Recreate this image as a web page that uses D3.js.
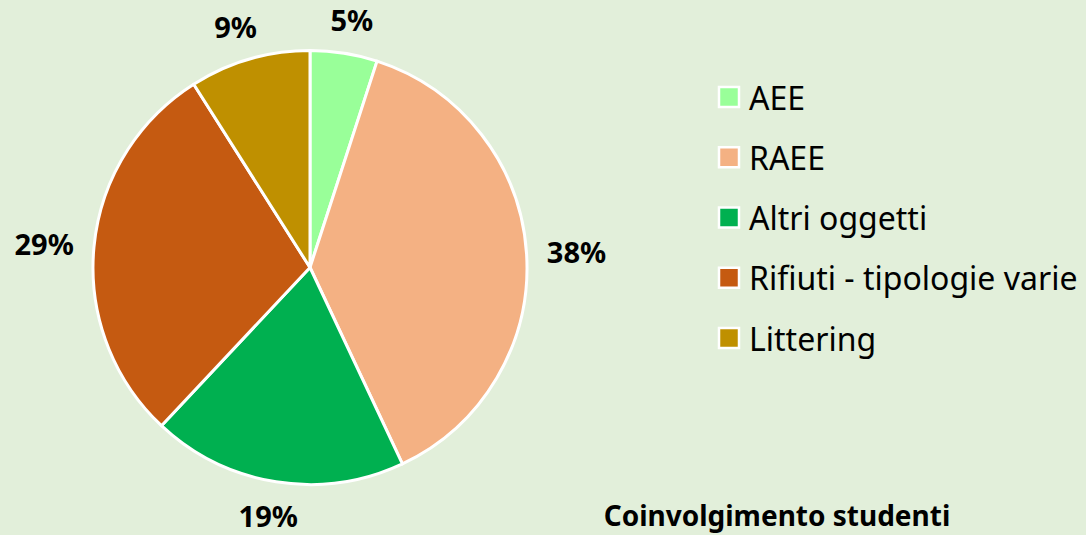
<!DOCTYPE html>
<html>
<head>
<meta charset="utf-8">
<script src="https://cdn.jsdelivr.net/npm/d3@7"></script>
<style>
  body { margin: 0; background: #e2efda; }
  svg { display: block; font-family: "Noto Sans", "Open Sans", sans-serif; }
</style>
</head>
<body>
<div id="chart"></div>
<script>
// data
const categories = ['AEE', 'RAEE', 'Altri oggetti', 'Rifiuti - tipologie varie', 'Littering'];
const values = [5, 38, 19, 29, 9];
const colors = ['#99ff99', '#f4b183', '#00b050', '#c55a11', '#bf9000'];
const title = 'Coinvolgimento studenti';

const W = 1086, H = 535;
const cx = 310, cy = 267.5, r = 217;

const svg = d3.select('#chart').append('svg')
  .attr('width', W)
  .attr('height', H);

svg.append('rect').attr('width', W).attr('height', H).attr('fill', '#e2efda');

const data = categories.map((c, i) => ({ name: c, value: values[i], color: colors[i] }));

const pie = d3.pie().sort(null).value(d => d.value);
const arc = d3.arc().innerRadius(0).outerRadius(r);
const arcs = pie(data);

const g = svg.append('g').attr('transform', `translate(${cx},${cy})`);

g.selectAll('path.slice')
  .data(arcs)
  .enter().append('path')
  .attr('class', 'slice')
  .attr('d', arc)
  .attr('fill', d => d.data.color)
  .attr('stroke', '#fff')
  .attr('stroke-width', 3)
  .attr('stroke-linejoin', 'round');

// labels outside end
const total = d3.sum(values);
const gap = 20, lw = 60, lh = 28;
g.selectAll('text.lbl')
  .data(arcs)
  .enter().append('text')
  .attr('class', 'lbl')
  .attr('x', d => {
    const a = (d.startAngle + d.endAngle) / 2;
    return Math.sin(a) * (r + gap) + Math.sin(a) * lw / 2;
  })
  .attr('y', d => {
    const a = (d.startAngle + d.endAngle) / 2;
    return -Math.cos(a) * (r + gap) - Math.cos(a) * lh / 2;
  })
  .attr('text-anchor', 'middle')
  .attr('dominant-baseline', 'central')
  .attr('font-size', 29)
  .attr('font-weight', 'bold')
  .attr('fill', '#000')
  .text(d => Math.round(d.data.value / total * 100) + '%');

// legend
const legend = svg.append('g').attr('transform', 'translate(718,0)');
const ly = d3.scalePoint().domain(categories).range([97, 338]);

const item = legend.selectAll('g.item')
  .data(data)
  .enter().append('g')
  .attr('class', 'item')
  .attr('transform', d => `translate(0,${ly(d.name)})`);

item.append('rect')
  .attr('x', 1)
  .attr('y', -10)
  .attr('width', 20)
  .attr('height', 20)
  .attr('fill', d => d.color)
  .attr('stroke', '#fff')
  .attr('stroke-width', 2.5);

item.append('text')
  .attr('x', 31)
  .attr('y', 0)
  .attr('dominant-baseline', 'central')
  .attr('font-size', 32)
  .attr('fill', '#000')
  .text(d => d.name);

svg.append('text')
  .attr('x', 777)
  .attr('y', 515)
  .attr('text-anchor', 'middle')
  .attr('dominant-baseline', 'central')
  .attr('font-size', 28)
  .attr('font-weight', 'bold')
  .attr('fill', '#000')
  .text(title);
</script>
</body>
</html>
